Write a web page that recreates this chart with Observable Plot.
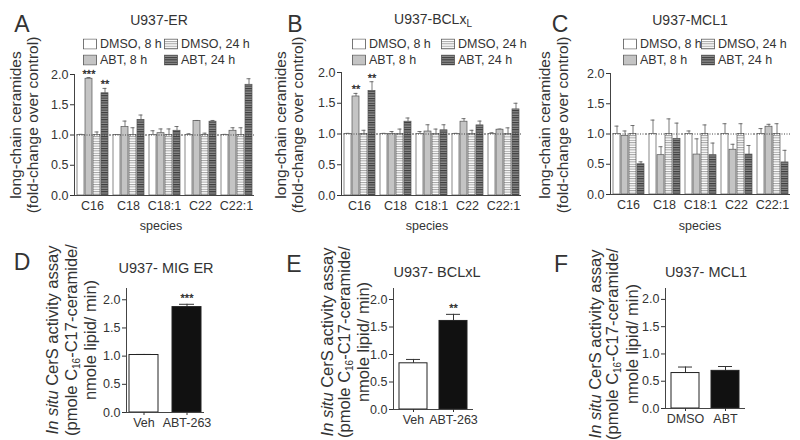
<!DOCTYPE html>
<html><head><meta charset="utf-8">
<script src="https://cdn.jsdelivr.net/npm/d3@7"></script>
<script src="https://cdn.jsdelivr.net/npm/@observablehq/plot@0.6"></script>
<style>
body{margin:0;background:#fff;}
#fig{position:relative;width:800px;height:440px;overflow:hidden;font-family:"Liberation Sans",Arial,sans-serif;color:#333;background:#fff;}
.abs{position:absolute;white-space:nowrap;line-height:1;}
.rot{transform:translate(-50%,-50%) rotate(-90deg);}
.ctr{transform:translate(-50%,-50%);}
.plot{position:absolute;}
</style></head><body>
<div id="fig">
<svg width="0" height="0" style="position:absolute">
<defs>
<pattern id="hatchLight" patternUnits="userSpaceOnUse" width="8" height="2.4"><rect width="8" height="2.4" fill="#ffffff"/><rect width="8" height="1" fill="#a0a0a0"/></pattern>
<pattern id="hatchDark" patternUnits="userSpaceOnUse" width="8" height="2.4"><rect width="8" height="2.4" fill="#8e8e8e"/><rect width="8" height="1.1" fill="#3a3a3a"/></pattern>
</defs></svg>
</div>
<script>
// ---------- data ----------
const species = ["C16", "C18", "C18:1", "C22", "C22:1"];
const conditions = ["DMSO, 8 h", "ABT, 8 h", "DMSO, 24 h", "ABT, 24 h"];

// Panel A: U937-ER (rows = species, cols = conditions)
const erMean = [[1.00, 1.93, 1.00, 1.69], [1.00, 1.13, 1.00, 1.25], [1.00, 1.03, 1.00, 1.07], [1.00, 1.23, 1.00, 1.22], [1.00, 1.07, 1.00, 1.83]];
const erErr  = [[0.01, 0.02, 0.05, 0.08], [0.005, 0.10, 0.12, 0.08], [0.07, 0.07, 0.10, 0.07], [0.02, 0.01, 0.03, 0.02], [0.01, 0.05, 0.12, 0.10]];
const erStars = [["", "***", "", "**"], ["", "", "", ""], ["", "", "", ""], ["", "", "", ""], ["", "", "", ""]];

// Panel B: U937-BCLxL
const bclMean = [[1.00, 1.61, 1.00, 1.70], [1.00, 1.00, 1.00, 1.20], [1.00, 1.04, 1.00, 1.06], [1.00, 1.20, 1.00, 1.14], [1.00, 1.07, 1.00, 1.40]];
const bclErr  = [[0.01, 0.05, 0.06, 0.15], [0.01, 0.04, 0.08, 0.06], [0.04, 0.11, 0.08, 0.09], [0.01, 0.05, 0.06, 0.07], [0.02, 0.01, 0.10, 0.10]];
const bclStars = [["", "**", "", "**"], ["", "", "", ""], ["", "", "", ""], ["", "", "", ""], ["", "", "", ""]];

// Panel C: U937-MCL1
const mclMean = [[1.00, 0.97, 1.00, 0.50], [1.00, 0.65, 1.00, 0.92], [1.00, 0.66, 1.00, 0.65], [1.00, 0.74, 1.00, 0.66], [1.00, 1.12, 1.00, 0.53]];
const mclErr  = [[0.13, 0.08, 0.14, 0.04], [0.23, 0.14, 0.25, 0.26], [0.05, 0.26, 0.15, 0.20], [0.17, 0.09, 0.17, 0.15], [0.09, 0.04, 0.17, 0.20]];
const mclStars = [["", "", "", ""], ["", "", "", ""], ["", "", "", ""], ["", "", "", ""], ["", "", "", ""]];

// Panels D–F: in situ CerS activity
const migGroups = ["Veh", "ABT-263"];
const migMean = [1.02, 1.87];
const migErr = [0.01, 0.05];
const migStars = ["", "***"];

const bclGroups = ["Veh", "ABT-263"];
const bclActMean = [0.84, 1.61];
const bclActErr = [0.07, 0.12];
const bclActStars = ["", "**"];

const mclGroups = ["DMSO", "ABT"];
const mclActMean = [0.65, 0.69];
const mclActErr = [0.11, 0.08];
const mclActStars = ["", ""];

const yTicks = [0, 0.5, 1.0, 1.5, 2.0];

// ---------- styling ----------
const FONT = '"Liberation Sans", Arial, sans-serif';
const FILLS = ["#ffffff", "#c4c4c4", "url(#hatchLight)", "url(#hatchDark)"];
const fig = document.getElementById("fig");

function addText(html, x, y, cls, size, extra = "") {
  const d = document.createElement("div");
  d.className = "abs " + cls;
  d.style.left = x + "px";
  d.style.top = y + "px";
  d.style.fontSize = size + "px";
  d.style.cssText += extra;
  d.innerHTML = html;
  fig.appendChild(d);
  return d;
}
function place(svg, left, top) {
  svg.classList.add("plot");
  svg.style.left = left + "px";
  svg.style.top = top + "px";
  fig.appendChild(svg);
}

function topChart(mean, err, stars, g) {
  const rows = species.flatMap((s, i) => conditions.map((c, j) => ({species: s, cond: c, v: mean[i][j], e: err[i][j], star: stars[i][j]})));
  return Plot.plot({
    width: g.w, height: g.h, marginLeft: g.ml, marginRight: 6, marginTop: 10, marginBottom: g.h - 10 - g.ph,
    style: {fontFamily: FONT, fontSize: "12.5px", color: "#333", background: "white", overflow: "visible"},
    fx: {domain: species, padding: 0, label: null},
    x: {domain: conditions, paddingInner: 0.15, paddingOuter: 0.3, axis: null},
    y: {domain: [0, 2], label: null},
    color: {domain: conditions, range: FILLS},
    marks: [
      Plot.ruleX(rows, {fx: "species", x: "cond", y1: "v", y2: d => d.v + d.e, stroke: "#555", strokeWidth: 0.8}),
      Plot.tickY(rows, {fx: "species", x: "cond", y: d => d.v + d.e, stroke: "#555", strokeWidth: 0.8, insetLeft: 1.5, insetRight: 1.5}),
      Plot.barY(rows, {fx: "species", x: "cond", y: "v", fill: "cond", stroke: "#555", strokeWidth: 0.7}),
      Plot.ruleY([1], {stroke: "#444", strokeDasharray: "1,1.5"}),
      Plot.ruleY([0], {stroke: "#444"}),
      Plot.frame({anchor: "left", facetAnchor: "left", stroke: "#444"}),
      Plot.axisY({ticks: yTicks, tickFormat: d => d.toFixed(1), tickSize: 4, tickPadding: 2, label: null}),
      Plot.axisFx({anchor: "bottom", tickSize: 0, tickPadding: 6, label: null}),
      Plot.text(rows.filter(d => d.star), {fx: "species", x: "cond", y: d => d.v + d.e, text: "star", dy: 0, lineAnchor: "bottom", fontSize: 11, fill: "#222", stroke: "#222", strokeWidth: 0.3})
    ]
  });
}

function botChart(groups, mean, err, stars, g) {
  const rows = groups.map((k, i) => ({k, v: mean[i], e: err[i], star: stars[i]}));
  return Plot.plot({
    width: g.w, height: g.h, marginLeft: 36, marginRight: 8, marginTop: 8, marginBottom: g.h - 8 - g.ph,
    style: {fontFamily: FONT, fontSize: "12.5px", color: "#333", background: "white", overflow: "visible"},
    x: {domain: groups, paddingInner: g.pi, paddingOuter: g.po, label: null},
    y: {domain: [0, 2.2], label: null},
    color: {domain: groups, range: ["#ffffff", "#111111"]},
    marks: [
      Plot.ruleX(rows, {x: "k", y1: "v", y2: d => d.v + d.e, stroke: "#333"}),
      Plot.tickY(rows, {x: "k", y: d => d.v + d.e, stroke: "#333", insetLeft: 7, insetRight: 7}),
      Plot.barY(rows, {x: "k", y: "v", fill: "k", stroke: "#222", strokeWidth: 1}),
      Plot.frame({anchor: "left", stroke: "#444"}),
      Plot.ruleY([0], {stroke: "#444"}),
      Plot.axisY({ticks: yTicks, tickFormat: d => d.toFixed(1), tickSize: 4, tickPadding: 2, label: null}),
      Plot.axisX({tickSize: 3, tickPadding: 3, label: null}),
      Plot.text(rows.filter(d => d.star), {x: "k", y: d => d.v + d.e, text: "star", dy: -2, lineAnchor: "bottom", fontSize: 11, fill: "#222", stroke: "#222", strokeWidth: 0.3})
    ]
  });
}

function legend(x1, x2, y1, y2) {
  const items = [[0, x1, y1], [2, x2, y1], [1, x1, y2], [3, x2, y2]];
  for (const [j, x, y] of items) {
    addText(
      `<svg width="14" height="11" style="display:inline-block;vertical-align:middle"><rect x="0.5" y="0.5" width="13" height="10" fill="${FILLS[j]}" stroke="#555" stroke-width="0.8"/></svg><span style="margin-left:3px;vertical-align:middle">${conditions[j]}</span>`,
      x, y, "", 12.5, "transform:translateY(-50%);");
  }
}

// ---------- top row ----------
place(topChart(erMean, erErr, erStars, {w: 220, h: 150, ml: 33, ph: 121}), 40, 64);
place(topChart(bclMean, bclErr, bclStars, {w: 222, h: 152, ml: 35, ph: 123}), 305, 62);
place(topChart(mclMean, mclErr, mclStars, {w: 226, h: 150, ml: 36, ph: 121}), 572, 63);

addText("A", 22, 24, "ctr", 23);
addText("B", 295, 24, "ctr", 23);
addText("C", 560, 24, "ctr", 23);
addText("U937-ER", 159, 20, "ctr", 14);
addText("U937-BCLx<sub style='font-size:10px;vertical-align:-3px'>L</sub>", 433, 20, "ctr", 14);
addText("U937-MCL1", 690, 20, "ctr", 14);
legend(83, 164, 44, 60);
legend(352, 441, 44, 60);
legend(623, 701, 44, 60);

for (const [x1, x2] of [[16, 33], [281, 298], [545, 563]]) {
  addText("long-chain ceramides", x1, 125, "rot", 15.5);
  addText("(fold-change over control)", x2, 125, "rot", 15.5);
}
addText("species", 161, 226, "ctr", 12.5);
addText("species", 427, 226, "ctr", 12.5);
addText("species", 700, 226, "ctr", 12.5);

// ---------- bottom row ----------
place(botChart(migGroups, migMean, migErr, migStars, {w: 122, h: 152, ph: 124, pi: 0.33, po: 0.07}), 90, 280);
place(botChart(bclGroups, bclActMean, bclActErr, bclActStars, {w: 124, h: 149, ph: 121, pi: 0.31, po: 0.14}), 357, 280);
place(botChart(mclGroups, mclActMean, mclActErr, mclActStars, {w: 124, h: 148, ph: 120, pi: 0.3, po: 0.15}), 629, 280);

addText("D", 22, 262, "ctr", 23);
addText("E", 294, 264, "ctr", 23);
addText("F", 561, 264, "ctr", 23);
addText("U937- MIG ER", 166, 268, "ctr", 14.5);
addText("U937- BCLxL", 437, 272, "ctr", 14.5);
addText("U937- MCL1", 706, 272, "ctr", 14.5);

const yl1 = "<i>In situ</i> CerS activity assay";
const yl2 = "(pmole C<sub style='font-size:10px;vertical-align:-3px'>16</sub>-C17-ceramide/";
const yl3 = "nmole lipid/ min)";
for (const [a, b, c, cy] of [[52, 72, 90, 340], [327, 345, 363, 342], [595, 613, 632, 344]]) {
  addText(yl1, a, cy, "rot", 16.5);
  addText(yl2, b, cy, "rot", 16.5);
  addText(yl3, c, cy, "rot", 16.5);
}
</script>
</body></html>
